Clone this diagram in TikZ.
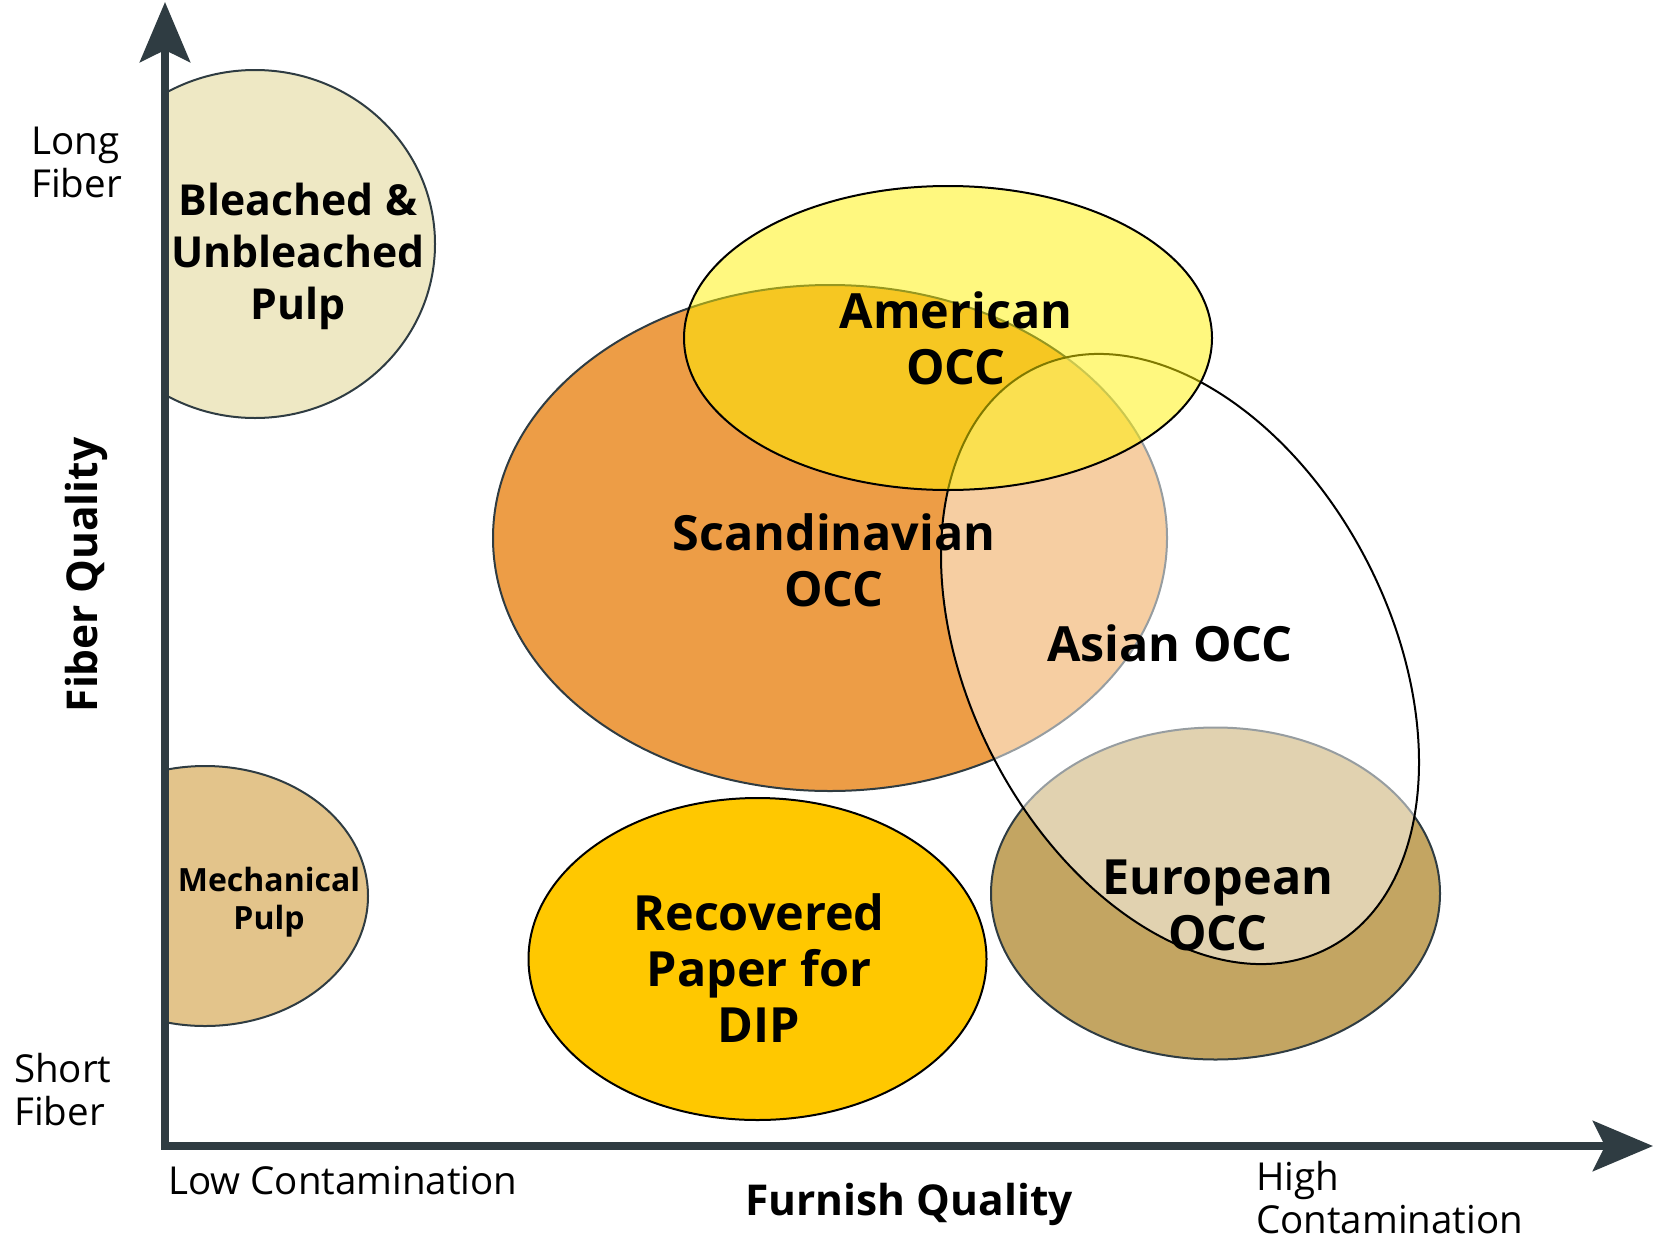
\documentclass[tikz,border=0pt]{standalone}
\usepackage{fontspec}
\setmainfont{Open Sans}
\usetikzlibrary{arrows.meta}
\definecolor{axc}{RGB}{47,60,66}
\definecolor{bleach}{RGB}{238,232,196}
\definecolor{mech}{RGB}{227,196,139}
\definecolor{scand}{RGB}{237,157,70}
\definecolor{europ}{RGB}{195,165,98}
\definecolor{recov}{RGB}{255,200,0}
\begin{document}
\begin{tikzpicture}[x=1pt,y=-1pt,
  blob/.style={line width=2pt,draw=axc},
  blobk/.style={line width=2pt,draw=black},
  biglab/.style={font=\bfseries\fontsize{48.5}{56}\selectfont,align=center,inner sep=0pt},
  midlab/.style={font=\bfseries\fontsize{42.7}{52}\selectfont,align=center,inner sep=0pt},
  smalllab/.style={font=\bfseries\fontsize{32}{38}\selectfont,align=center,inner sep=0pt},
  axlab/.style={font=\fontsize{38.5}{43}\selectfont,align=left,inner sep=0pt},
  axtitle/.style={font=\bfseries\fontsize{42.5}{46}\selectfont,inner sep=0pt},
  axis/.style={line width=8pt,draw=axc,-{Stealth[length=60pt,width=50pt,inset=12pt]}}]
\useasboundingbox (0,0) rectangle (1653,1242);
% left-edge ellipses (clipped at axis)
\begin{scope}
  \clip (165,0) rectangle (700,1140);
  \path[blob,fill=bleach] (255,244) ellipse [x radius=180pt,y radius=174pt];
  \path[blob,fill=mech] (205,896) ellipse [x radius=163pt,y radius=130pt];
\end{scope}
% recovered
\path[blobk,fill=recov] (757.5,959) ellipse [x radius=229pt,y radius=161pt];
% scandinavian
\path[blob,fill=scand] (830,538) ellipse [x radius=337pt,y radius=253pt];
% european
\path[blob,fill=europ] (1215.5,893.5) ellipse [x radius=224.5pt,y radius=166pt];
% asian
\path[blobk,fill=white,fill opacity=0.5] (1180,659) ellipse [x radius=211pt,y radius=325pt,rotate=27];
% american
\path[blobk,fill=yellow,fill opacity=0.5] (948,338) ellipse [x radius=264pt,y radius=152pt];
% axes
\coordinate (o) at (165,1146);
\coordinate (ytip) at (165,2);
\coordinate (xtip) at (1653,1146);
\draw[axis] ([yshift=4pt]o) -- (ytip);
\draw[axis] ([xshift=-4pt]o) -- (xtip);
% labels
\node[midlab] (bl) at (298,256) {Bleached \&\\Unbleached\\Pulp};
\node[smalllab] (mp) at (269,902) {Mechanical\\Pulp};
\node[biglab] (am) at (956,338) {American\\OCC};
\node[biglab] (sc) at (834,560) {Scandinavian\\OCC};
\node[biglab] (as) at (1170,643) {Asian OCC};
\node[biglab] (eu) at (1218,905) {European\\OCC};
\node[biglab] (rp) at (759,968) {Recovered\\Paper for\\DIP};
\node[axlab,anchor=west] (lf) at (31,162) {Long\\Fiber};
\node[axlab,anchor=west] (sf) at (14,1090) {Short\\Fiber};
\node[axlab,anchor=west] (lc) at (168,1181) {Low Contamination};
\node[axlab,anchor=west] (hc) at (1256,1198) {High\\Contamination};
\node[axtitle] (fq) at (909,1204) {Furnish Quality};
\node[axtitle,rotate=90] (fb) at (86,575) {Fiber Quality};
\end{tikzpicture}
\end{document}
